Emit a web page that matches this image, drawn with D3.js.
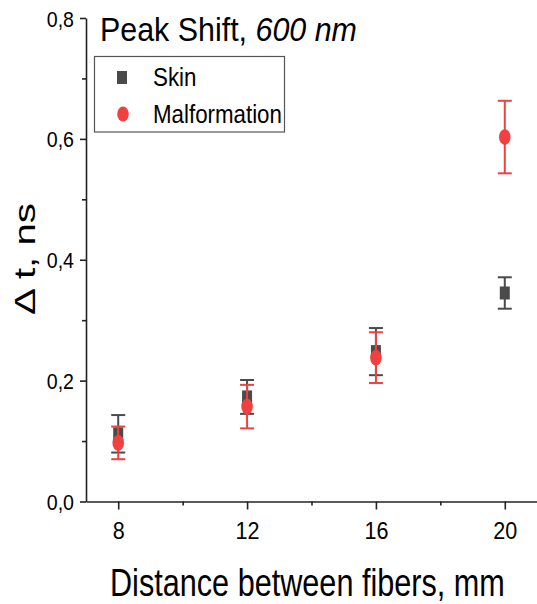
<!DOCTYPE html>
<html>
<head>
<meta charset="utf-8">
<script src="https://cdn.jsdelivr.net/npm/d3@7"></script>
<style>
  body { margin: 0; background: #fff; }
  svg { display: block; }
  text { font-family: "Liberation Sans", Arial, sans-serif; fill: #000; }
</style>
</head>
<body>
<script>
// Peak shift (Δt, ns) versus source–detector fiber distance, 600 nm
const distances = [8, 12, 16, 20];
const skinValues = [0.112, 0.173, 0.248, 0.345];
const skinErrors = [0.031, 0.028, 0.039, 0.026];
const malformationValues = [0.097, 0.157, 0.238, 0.603];
const malformationErrors = [0.027, 0.036, 0.042, 0.060];

const xTicks = [8, 12, 16, 20];
const xMinorTicks = [10, 14, 18];
const yTicks = [0, 0.2, 0.4, 0.6, 0.8];
const yMinorTicks = [0.1, 0.3, 0.5, 0.7];

const seriesNames = ["Skin", "Malformation"];
const seriesColors = ["#4a4a4a", "#f04040"];

const W = 537, H = 604;
const svg = d3.select("body").append("svg").attr("width", W).attr("height", H);

const x = d3.scaleLinear().domain([7, 21]).range([86, 537]);
const y = d3.scaleLinear().domain([0, 0.8]).range([501.5, 18]);

const axisColor = "#222";
const commaFmt = d => d3.format(".1f")(d).replace(".", ",");

// horizontally fit a text element to a given width
function fit(sel, tx, ty, width, rot) {
  const w = sel.node().getComputedTextLength();
  const s = width / w;
  sel.attr("transform", `translate(${tx},${ty})${rot ? " rotate(-90)" : ""} scale(${s},1)`);
}

// Y axis
const yAxis = svg.append("g").attr("transform", `translate(${x.range()[0]},0)`)
  .call(d3.axisLeft(y).tickValues(yTicks).tickSize(6).tickSizeOuter(0).tickFormat(commaFmt));
svg.append("g").attr("transform", `translate(${x.range()[0]},0)`)
  .call(d3.axisLeft(y).tickValues(yMinorTicks).tickSize(4).tickFormat(""))
  .call(g => g.select(".domain").remove());

// X axis
const xAxis = svg.append("g").attr("transform", `translate(0,${y(0)})`)
  .call(d3.axisBottom(x).tickValues(xTicks).tickSize(8).tickSizeOuter(0).tickFormat(d3.format("d")));
svg.append("g").attr("transform", `translate(0,${y(0)})`)
  .call(d3.axisBottom(x).tickValues(xMinorTicks).tickSize(4).tickFormat(""))
  .call(g => g.select(".domain").remove());

svg.selectAll(".domain, .tick line").attr("stroke", axisColor).attr("stroke-width", 1.6);

yAxis.selectAll(".tick text")
  .attr("font-size", 22.5).attr("fill", "#000")
  .attr("x", -12 / 0.87).attr("dy", "0.36em")
  .attr("transform", "scale(0.87,1)");

xAxis.selectAll(".tick text")
  .attr("font-size", 24.5).attr("fill", "#000")
  .attr("y", 38).attr("dy", "0")
  .attr("transform", "scale(0.88,1)");

// Series with error bars
const capW = 14;
function drawSeries(values, errors, color, marker) {
  const g = svg.append("g");
  const pts = distances.map((d, i) => ({ d, v: values[i], e: errors[i] }));
  g.selectAll("line.bar").data(pts).join("line").attr("class", "bar")
    .attr("x1", p => x(p.d)).attr("x2", p => x(p.d))
    .attr("y1", p => y(p.v + p.e)).attr("y2", p => y(p.v - p.e))
    .attr("stroke", color).attr("stroke-width", 2);
  g.selectAll("line.capTop").data(pts).join("line").attr("class", "capTop")
    .attr("x1", p => x(p.d) - capW / 2).attr("x2", p => x(p.d) + capW / 2)
    .attr("y1", p => y(p.v + p.e)).attr("y2", p => y(p.v + p.e))
    .attr("stroke", color).attr("stroke-width", 2);
  g.selectAll("line.capBot").data(pts).join("line").attr("class", "capBot")
    .attr("x1", p => x(p.d) - capW / 2).attr("x2", p => x(p.d) + capW / 2)
    .attr("y1", p => y(p.v - p.e)).attr("y2", p => y(p.v - p.e))
    .attr("stroke", color).attr("stroke-width", 2);
  if (marker === "square") {
    g.selectAll("rect").data(pts).join("rect")
      .attr("x", p => x(p.d) - 5).attr("y", p => y(p.v) - 6.5)
      .attr("width", 10).attr("height", 13).attr("fill", color);
  } else {
    g.selectAll("ellipse").data(pts).join("ellipse")
      .attr("cx", p => x(p.d)).attr("cy", p => y(p.v))
      .attr("rx", 5.8).attr("ry", 7.8).attr("fill", color);
  }
}
drawSeries(skinValues, skinErrors, seriesColors[0], "square");
drawSeries(malformationValues, malformationErrors, seriesColors[1], "circle");

// Title
const title = svg.append("text").attr("font-size", 32.5);
title.append("tspan").text("Peak Shift, ");
title.append("tspan").attr("font-style", "italic").text("600 nm");
fit(title, 100, 40.5, 257);

// Legend
svg.append("rect").attr("x", 94.5).attr("y", 56.5).attr("width", 190).attr("height", 75.5)
  .attr("fill", "none").attr("stroke", "#555").attr("stroke-width", 1.2);
svg.append("rect").attr("x", 117).attr("y", 71).attr("width", 10).attr("height", 13).attr("fill", seriesColors[0]);
svg.append("ellipse").attr("cx", 123).attr("cy", 114).attr("rx", 5.8).attr("ry", 7.6).attr("fill", seriesColors[1]);
const legMal = svg.append("text").attr("font-size", 26.5).text(seriesNames[1]);
fit(legMal, 153, 122.7, 129);
const legScale = 129 / legMal.node().getComputedTextLength();
svg.append("text").attr("font-size", 26.5).text(seriesNames[0])
  .attr("transform", `translate(153,86) scale(${legScale},1)`);

// Axis titles
const xTitle = svg.append("text").attr("font-size", 38).text("Distance between fibers, mm");
fit(xTitle, 110, 596, 395);

const yTitle = svg.append("text").attr("font-size", 30).attr("text-anchor", "middle").text("Δ t, ns");
fit(yTitle, 35, 259, 112, true);
</script>
</body>
</html>
